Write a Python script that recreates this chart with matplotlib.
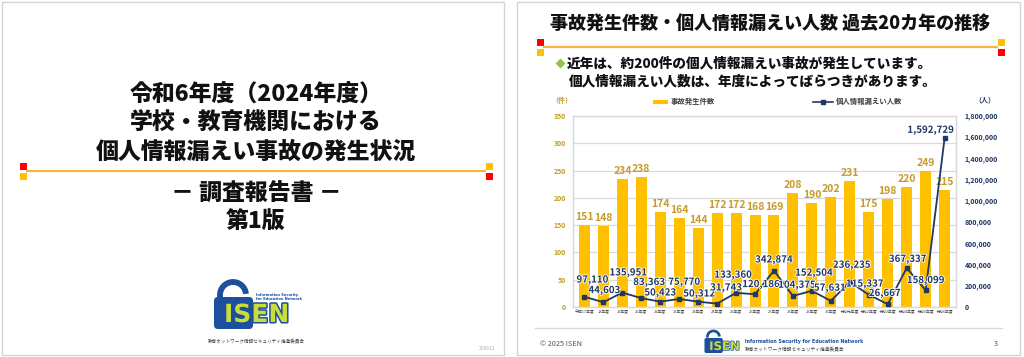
import matplotlib
matplotlib.use('Agg')
import matplotlib.pyplot as plt
import matplotlib.patheffects as pe
from matplotlib.patches import Rectangle, FancyBboxPatch, Arc

plt.rcParams['font.family'] = ['Noto Sans CJK JP', 'DejaVu Sans']

# data
years = ['平成17年度', '18年度', '19年度', '20年度', '21年度', '22年度', '23年度',
         '24年度', '25年度', '26年度', '27年度', '28年度', '29年度', '30年度',
         '令和元年度', '令和2年度', '令和3年度', '令和4年度', '令和5年度', '令和6年度']
incidents = [151, 148, 234, 238, 174, 164, 144, 172, 172, 168,
             169, 208, 190, 202, 231, 175, 198, 220, 249, 215]
people = [97110, 44603, 135951, 83363, 50423, 75770, 50312, 31743, 133360, 120186,
          342874, 104375, 152504, 57631, 236235, 115337, 26667, 367337, 158099, 1592729]

# label nudges (pixels: right, up) so the numbers don't collide
people_offsets = [(8, 17), (1, 12), (6, 20), (8, 16), (0, 9), (5, 17), (1, 8), (9, 16),
                  (-3, 18), (6, 10), (0, 11), (4, 11), (2, 18), (-1, 13), (2, 17),
                  (-4, 11), (-3, 11), (1, 9), (0, 10), (-14, 8)]

YELLOW = '#FFC000'
GOLD = '#C59B2A'
NAVY = '#1F3864'
ORANGE = '#F7B443'
RED = '#FF0000'
BLUE = '#1D4F9F'
LIME = '#C8DD3A'
HEAVY = 'heavy'

W, H = 1024, 357
fig = plt.figure(figsize=(W / 100, H / 100), dpi=100)

# background axes in pixel coordinates for slide decoration
bg = fig.add_axes([0, 0, 1, 1])
bg.set_xlim(0, W)
bg.set_ylim(H, 0)
bg.axis('off')

bg.add_patch(Rectangle((1.5, 1.5), 502, 353, fill=False, ec='#D3D3D3', lw=1))
bg.add_patch(Rectangle((517, 1.5), 503, 353, fill=False, ec='#D3D3D3', lw=1))


def rule(x0, x1, y):
    bg.plot([x0 + 3, x1 - 3], [y, y], color=ORANGE, lw=1.6, solid_capstyle='butt')
    s = 7
    bg.add_patch(Rectangle((x0 - s / 2, y - 5 - s / 2), s, s, color=RED, lw=0))
    bg.add_patch(Rectangle((x0 - s / 2, y + 5 - s / 2), s, s, color=YELLOW, lw=0))
    bg.add_patch(Rectangle((x1 - s / 2, y - 5 - s / 2), s, s, color=YELLOW, lw=0))
    bg.add_patch(Rectangle((x1 - s / 2, y + 5 - s / 2), s, s, color=RED, lw=0))


def logo(x, y, k):
    # padlock with ISEN lettering, x,y = top-left of shackle (y axis is inverted)
    bg.add_patch(Arc((x + 20 * k, y + 15 * k), 26 * k, 26 * k, theta1=180, theta2=355,
                     ec=BLUE, lw=4.2 * k))
    bg.plot([x + 7 * k, x + 7 * k], [y + 15 * k, y + 18 * k], color=BLUE, lw=4.2 * k,
            solid_capstyle='butt')
    bg.add_patch(FancyBboxPatch((x + 1 * k, y + 17 * k), 39 * k, 32 * k,
                                boxstyle='round,pad=0,rounding_size=%f' % (4 * k),
                                fc=BLUE, ec='none'))
    bg.text(x + 11 * k, y + 35 * k, 'ISEN', fontsize=18 * k, fontweight='bold',
            color=LIME, family='DejaVu Sans', ha='left', va='center',
            path_effects=[pe.withStroke(linewidth=2.2 * k, foreground=BLUE)])


# ---- left slide (cover) ----
cover = ['令和6年度（2024年度）', '学校・教育機関における', '個人情報漏えい事故の発生状況']
for yy, s in zip([95, 123, 152], cover):
    bg.text(256, yy, s, fontsize=16.5, fontweight=HEAVY, ha='center', va='center', color='#111111')
rule(23, 489, 171)
bg.text(256, 194, '－ 調査報告書 －', fontsize=16.5, fontweight=HEAVY, ha='center', va='center', color='#111111')
bg.text(256, 222, '第1版', fontsize=16.5, fontweight=HEAVY, ha='center', va='center', color='#111111')
logo(213, 280, 1.0)
bg.text(256, 297, 'Information Security\nfor Education Network', fontsize=2.6, color=BLUE,
        family='DejaVu Sans', fontweight='bold', ha='left', va='center', linespacing=1.0)
bg.text(256, 341, '教育ネットワーク情報セキュリティ推進委員会', fontsize=3.3, color='#444444',
        ha='center', va='center')
bg.text(495, 348, '250612', fontsize=3.5, color='#AAAAAA', ha='right', va='center')

# ---- right slide (chart) ----
bg.text(770, 23, '事故発生件数・個人情報漏えい人数 過去20カ年の推移', fontsize=13,
        fontweight=HEAVY, ha='center', va='center', color='#111111')
rule(540, 1001, 47)
bg.plot([560], [63], marker='D', ms=5.5, color='#8DC63F', mec='none')
bg.text(567, 63, '近年は、約200件の個人情報漏えい事故が発生しています。', fontsize=9.8,
        fontweight=HEAVY, ha='left', va='center', color='#111111')
bg.text(569, 81.5, '個人情報漏えい人数は、年度によってばらつきがあります。', fontsize=9.8,
        fontweight=HEAVY, ha='left', va='center', color='#111111')

# legend and unit labels
bg.plot([653, 668], [101.5, 101.5], color=YELLOW, lw=3, solid_capstyle='butt')
bg.text(671, 101.5, '事故発生件数', fontsize=5.3, fontweight='bold', color='#404040', va='center')
bg.plot([813, 833], [101.5, 101.5], color=NAVY, lw=1.2)
bg.plot([823], [101.5], marker='s', ms=3, color=NAVY)
bg.text(836, 101.5, '個人情報漏えい人数', fontsize=5.3, fontweight='bold', color='#404040', va='center')
bg.text(562, 100, '（件）', fontsize=5, fontweight='bold', color=GOLD, ha='center', va='center')
bg.text(985, 100, '（人）', fontsize=5, fontweight='bold', color=NAVY, ha='center', va='center')

# footer
bg.plot([535, 1002], [328, 328], color='#D9D9D9', lw=1)
bg.text(540, 343.5, '© 2025 ISEN', fontsize=5.3, color='#555555', ha='left', va='center')
bg.text(998, 343.5, '3', fontsize=5.3, color='#555555', ha='right', va='center')
logo(704, 330, 0.47)
bg.text(745, 342, 'Information Security for Education Network', fontsize=3.4, color=BLUE,
        family='DejaVu Sans', fontweight='bold', ha='left', va='center')
bg.text(745, 348.5, '教育ネットワーク情報セキュリティ推進委員会', fontsize=3.4, color='#444444',
        ha='left', va='center')

# chart
ax = fig.add_axes([573 / W, 1 - 307 / H, 383 / W, 191 / H])
x = list(range(len(years)))
ax.bar(x, incidents, width=0.58, color=YELLOW, zorder=2)
ax.set_xlim(-0.6, 19.6)
ax.set_ylim(0, 350)
ax.set_yticks(range(0, 351, 50))
ax.grid(axis='y', color='#D9D9D9', lw=0.9, zorder=0)
ax.set_axisbelow(True)
for sp in ax.spines.values():
    sp.set_color('#D9D9D9')
    sp.set_linewidth(0.9)
ax.tick_params(axis='y', length=0, labelsize=5, labelcolor=GOLD, pad=5)
ax.set_xticks(x, years)
ax.tick_params(axis='x', length=0, labelsize=2.8, labelcolor='#444444', pad=2)
for lab in ax.get_yticklabels():
    lab.set_fontweight('bold')
for i, v in enumerate(incidents):
    ax.annotate(str(v), (i, v), xytext=(0, 8), textcoords='offset pixels', ha='center',
                va='center', fontsize=7.5, fontweight='bold', color=GOLD, zorder=3)

ax2 = ax.twinx()
ax2.set_ylim(0, 1800000)
ax2.set_yticks(range(0, 1800001, 200000))
ax2.yaxis.set_major_formatter(matplotlib.ticker.FuncFormatter(lambda v, p: f'{v:,.0f}'))
ax2.tick_params(axis='y', length=0, labelsize=5, labelcolor=NAVY, pad=6)
for lab in ax2.get_yticklabels():
    lab.set_fontweight('bold')
for sp in ax2.spines.values():
    sp.set_color('#D9D9D9')
    sp.set_linewidth(0.9)
ax2.plot(x, people, color=NAVY, lw=1.3, marker='s', ms=3.5, zorder=4)
for i, v in enumerate(people):
    dx, dy = people_offsets[i]
    ax2.annotate(f'{v:,}', (i, v), xytext=(dx, dy), textcoords='offset pixels', ha='center',
                 va='center', fontsize=7, fontweight='bold', color=NAVY, zorder=5,
                 path_effects=[pe.withStroke(linewidth=1.2, foreground='white')])

fig.savefig('out.png', dpi=100)
